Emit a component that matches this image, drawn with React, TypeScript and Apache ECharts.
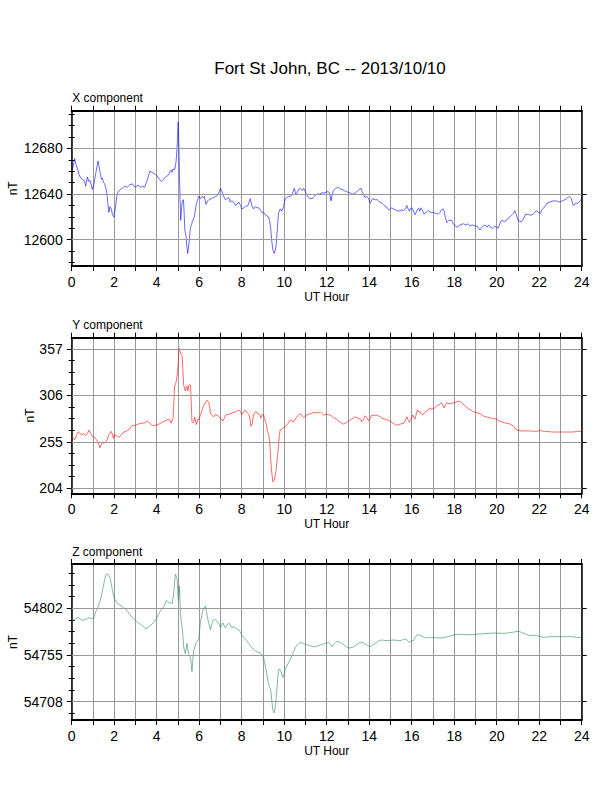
import React, { useEffect, useRef } from "react";
import * as echarts from "echarts";

// ---------------- DATA ----------------
const chartTitle = "Fort St John, BC -- 2013/10/10";
const panelNames = ["X component", "Y component", "Z component"];
const unitLabel = "nT";
const xAxisLabel = "UT Hour";

const xTickStep = 2;

// X component
const xCompHours = [
  0, 0.07, 0.14, 0.2, 0.27, 0.35, 0.42, 0.5, 0.58, 0.66, 0.74, 0.8, 0.86, 0.92, 0.97, 1.05, 1.13, 1.2, 1.24, 1.33,
  1.4, 1.44, 1.5, 1.55, 1.64, 1.7, 1.75, 1.8, 1.86, 1.92, 1.99, 2.07, 2.12, 2.18, 2.3, 2.38, 2.5, 2.61, 2.72, 2.85,
  2.93, 3.0, 3.12, 3.24, 3.35, 3.43, 3.55, 3.68, 3.78, 3.87, 3.95, 4.02, 4.12, 4.23, 4.32, 4.41, 4.5, 4.57, 4.63, 4.68,
  4.72, 4.77, 4.84, 4.91, 4.96, 5.01, 5.04, 5.07, 5.1, 5.13, 5.17, 5.2, 5.26, 5.3, 5.32, 5.38, 5.42, 5.46, 5.52, 5.59,
  5.64, 5.68, 5.77, 5.82, 5.87, 5.93, 5.98, 6.06, 6.13, 6.2, 6.24, 6.32, 6.4, 6.45, 6.55, 6.68, 6.78, 6.87, 6.95, 7.0,
  7.1, 7.18, 7.23, 7.3, 7.39, 7.46, 7.54, 7.62, 7.7, 7.78, 7.86, 7.95, 8.01, 8.1, 8.17, 8.3, 8.4, 8.48, 8.56, 8.65,
  8.72, 8.8, 8.88, 8.95, 9.03, 9.1, 9.18, 9.26, 9.32, 9.37, 9.42, 9.47, 9.53, 9.58, 9.62, 9.68, 9.73, 9.81, 9.89, 9.97,
  10.05, 10.12, 10.2, 10.28, 10.36, 10.42, 10.47, 10.55, 10.6, 10.68, 10.76, 10.85, 10.92, 11.0, 11.07, 11.2, 11.31, 11.42, 11.54, 11.65,
  11.78, 11.92, 12.0, 12.09, 12.15, 12.2, 12.26, 12.32, 12.42, 12.51, 12.6, 12.72, 12.82, 12.95, 13.1, 13.18, 13.26, 13.35, 13.42, 13.52,
  13.61, 13.67, 13.73, 13.8, 13.89, 13.97, 14.05, 14.1, 14.17, 14.28, 14.39, 14.5, 14.6, 14.7, 14.8, 14.88, 14.95, 15.05, 15.14, 15.25,
  15.38, 15.5, 15.61, 15.7, 15.77, 15.83, 15.89, 15.97, 16.05, 16.1, 16.16, 16.25, 16.32, 16.38, 16.43, 16.5, 16.58, 16.68, 16.79, 16.9,
  17.02, 17.12, 17.25, 17.33, 17.41, 17.47, 17.52, 17.58, 17.65, 17.75, 17.88, 17.95, 18.05, 18.15, 18.28, 18.43, 18.55, 18.65, 18.74, 18.85,
  18.98, 19.08, 19.15, 19.21, 19.3, 19.38, 19.45, 19.55, 19.62, 19.68, 19.8, 19.92, 20.0, 20.07, 20.15, 20.23, 20.35, 20.46, 20.55, 20.62,
  20.7, 20.78, 20.85, 20.92, 21.01, 21.1, 21.17, 21.25, 21.37, 21.5, 21.64, 21.75, 21.87, 21.95, 22.06, 22.12, 22.18, 22.27, 22.37, 22.5,
  22.65, 22.8, 22.97, 23.08, 23.2, 23.3, 23.4, 23.47, 23.51, 23.57, 23.62, 23.72, 23.83, 23.92, 24.0,
];
const xCompValues = [
  12660, 12664, 12671, 12666, 12662, 12657, 12654, 12653, 12652, 12647, 12655, 12651, 12652, 12648, 12644, 12649, 12658, 12665, 12669, 12660,
  12653, 12654, 12650, 12649, 12643, 12632, 12624, 12629, 12627, 12622, 12620, 12630, 12638, 12642, 12644, 12645, 12647, 12646, 12648, 12649,
  12647, 12646, 12648, 12646, 12647, 12646, 12652, 12660, 12659, 12658, 12657, 12656, 12653, 12651, 12653, 12655, 12656, 12657, 12660, 12661,
  12659, 12662, 12661, 12668, 12681, 12703, 12687, 12658, 12635, 12617, 12628, 12633, 12635, 12620, 12609, 12603, 12594, 12588, 12597, 12611,
  12613, 12616, 12620, 12626, 12632, 12635, 12638, 12636, 12638, 12637, 12638, 12631, 12634, 12635, 12636, 12637, 12638, 12639, 12642, 12645,
  12641, 12637, 12635, 12636, 12637, 12633, 12634, 12633, 12630, 12631, 12633, 12630, 12627, 12628, 12629, 12630, 12636, 12630, 12627, 12629,
  12628, 12628, 12626, 12624, 12624, 12622, 12621, 12620, 12616, 12609, 12598, 12591, 12588, 12591, 12595, 12610, 12623, 12627, 12625, 12629,
  12636, 12637, 12638, 12638, 12639, 12642, 12645, 12640, 12641, 12644, 12645, 12643, 12645, 12642, 12639, 12636, 12636, 12638, 12640, 12640,
  12641, 12641, 12642, 12642, 12640, 12634, 12640, 12643, 12645, 12646, 12645, 12644, 12643, 12642, 12641, 12640, 12640, 12641, 12642, 12644,
  12645, 12642, 12640, 12637, 12638, 12636, 12632, 12634, 12636, 12635, 12635, 12633, 12632, 12630, 12629, 12627, 12626, 12628, 12627, 12626,
  12625, 12626, 12625.5, 12627, 12630, 12627, 12625, 12628, 12627, 12624, 12622, 12626, 12627.5, 12625, 12628, 12626, 12622.5, 12624, 12625.5, 12624,
  12624, 12623, 12622.5, 12624, 12626.5, 12627, 12625.5, 12620, 12615, 12617, 12617, 12614, 12612, 12611, 12613, 12614, 12613, 12614, 12612, 12613,
  12612, 12612, 12610, 12608.5, 12611, 12612, 12613, 12611, 12613, 12611.5, 12610, 12612, 12611, 12610, 12614, 12617, 12616, 12617, 12619, 12620,
  12621.5, 12623, 12625.5, 12622, 12617, 12616, 12616, 12618, 12622.5, 12622, 12621.5, 12623, 12625.5, 12624, 12623, 12626, 12627.5, 12629, 12632, 12633,
  12634, 12634, 12633, 12634, 12635, 12636, 12638, 12637, 12636, 12632, 12630, 12632, 12632, 12634, 12636,
];

// Y component
const yCompHours = [
  0, 0.07, 0.14, 0.22, 0.3, 0.4, 0.5, 0.58, 0.66, 0.74, 0.81, 0.9, 0.97, 1.05, 1.13, 1.2, 1.24, 1.28, 1.33, 1.38,
  1.44, 1.5, 1.55, 1.64, 1.7, 1.75, 1.86, 1.92, 1.96, 2.02, 2.07, 2.15, 2.22, 2.35, 2.46, 2.58, 2.69, 2.78, 2.85, 2.95,
  3.08, 3.2, 3.32, 3.45, 3.55, 3.65, 3.79, 3.9, 4.02, 4.15, 4.26, 4.38, 4.49, 4.57, 4.63, 4.68, 4.73, 4.77, 4.81, 4.84,
  4.91, 4.99, 5.02, 5.05, 5.09, 5.12, 5.2, 5.24, 5.27, 5.31, 5.35, 5.39, 5.43, 5.47, 5.51, 5.55, 5.59, 5.63, 5.66, 5.7,
  5.74, 5.78, 5.82, 5.86, 5.9, 5.94, 5.98, 6.06, 6.14, 6.21, 6.29, 6.37, 6.45, 6.5, 6.53, 6.6, 6.68, 6.76, 6.84, 6.92,
  7.0, 7.06, 7.12, 7.2, 7.28, 7.38, 7.46, 7.58, 7.7, 7.78, 7.86, 7.94, 8.01, 8.08, 8.14, 8.24, 8.33, 8.39, 8.44, 8.49,
  8.53, 8.58, 8.64, 8.72, 8.8, 8.85, 8.9, 8.96, 9.03, 9.07, 9.11, 9.16, 9.22, 9.27, 9.31, 9.34, 9.37, 9.42, 9.47, 9.53,
  9.57, 9.62, 9.68, 9.73, 9.77, 9.81, 9.89, 9.97, 10.05, 10.13, 10.2, 10.28, 10.36, 10.44, 10.52, 10.6, 10.68, 10.76, 10.85, 10.92,
  11.0, 11.1, 11.25, 11.39, 11.5, 11.6, 11.7, 11.78, 11.86, 11.95, 12.09, 12.2, 12.32, 12.45, 12.56, 12.68, 12.8, 12.92, 13.03, 13.18,
  13.34, 13.46, 13.58, 13.66, 13.74, 13.81, 13.9, 13.97, 14.05, 14.12, 14.24, 14.36, 14.48, 14.6, 14.72, 14.86, 14.96, 15.06, 15.16, 15.27,
  15.36, 15.45, 15.55, 15.64, 15.7, 15.77, 15.83, 15.89, 15.97, 16.05, 16.1, 16.16, 16.22, 16.27, 16.33, 16.39, 16.45, 16.52, 16.6, 16.68,
  16.78, 16.86, 16.94, 17.02, 17.12, 17.21, 17.31, 17.41, 17.47, 17.52, 17.58, 17.65, 17.76, 17.88, 17.96, 18.04, 18.15, 18.27, 18.35, 18.43,
  18.55, 18.66, 18.78, 18.9, 19.05, 19.21, 19.33, 19.45, 19.6, 19.76, 19.88, 20.0, 20.12, 20.23, 20.35, 20.46, 20.58, 20.7, 20.8, 20.93,
  21.05, 21.17, 21.35, 21.56, 21.72, 21.87, 21.97, 22.06, 22.15, 22.26, 22.45, 22.65, 22.9, 23.12, 23.3, 23.51, 23.65, 23.75, 23.83, 24.0,
];
const yCompValues = [
  261, 259, 257.5, 262, 266, 264, 263, 264, 262, 264, 268, 264, 261, 260, 258.6, 256, 254, 252, 248.5, 252,
  255, 253, 254, 255.7, 260, 263, 266.5, 263, 259, 263, 262, 261, 260, 263, 266, 267, 268, 271, 273, 273,
  274, 275, 275.5, 276, 278, 276, 273, 273, 273.7, 275, 276.5, 278, 279, 280, 278, 275.5, 279, 281, 300, 316,
  320, 333, 345, 358, 355, 352.6, 349, 330, 316.8, 314, 311, 316, 316, 311, 316.8, 318, 317.5, 295, 277, 276,
  276.5, 282, 279, 274, 276.5, 280, 279, 284.4, 290, 295, 298, 300.6, 298, 292, 286, 284, 282.6, 285, 284.4, 283,
  281, 279, 278, 282, 285, 285, 286, 287, 288, 289, 290, 288, 285, 287, 290, 288, 285, 280, 272, 275,
  281, 286, 288, 287, 286, 284, 281, 285, 284.4, 281, 278, 274, 266.5, 262, 257.5, 247, 234, 220, 211, 212.6,
  217, 223.4, 238, 250, 262, 268, 269, 270.8, 272, 273.7, 276, 279, 278, 277, 280, 282.6, 285, 286, 283, 281.6,
  283, 285, 286, 287.3, 287, 287, 288, 286, 284.4, 285, 285, 284, 281.6, 280, 278, 276, 274.4, 276, 278, 280,
  282.6, 281, 280, 277, 280, 283.7, 281, 278, 281, 284.4, 284, 284.4, 283, 281, 280, 279, 278, 276.5, 275, 273,
  274, 274.4, 275, 275.5, 279, 282.6, 279, 276.5, 280, 284.4, 282, 280, 286, 290, 288, 288, 286, 284.4, 287, 288.7,
  290, 292.3, 291, 291.6, 293, 295.2, 296, 298, 295, 292.3, 295, 298, 297, 297, 298, 298, 299.5, 299.5, 298, 296,
  294, 291.6, 290, 288, 287, 286, 284, 282.6, 282, 281, 280.5, 280, 278, 277, 276, 275.5, 275, 273.7, 272, 268,
  267.5, 267, 267, 267, 266.7, 266.5, 267, 268, 266.8, 266.5, 266.2, 265.8, 265.8, 265.8, 265.8, 265.8, 265.9, 266.5, 266.5, 266.5,
];

// Z component
const zCompHours = [
  0, 0.1, 0.19, 0.34, 0.42, 0.5, 0.58, 0.66, 0.74, 0.81, 0.9, 1.02, 1.08, 1.13, 1.24, 1.36, 1.42, 1.49, 1.55, 1.6,
  1.65, 1.71, 1.76, 1.8, 1.86, 1.91, 1.97, 2.02, 2.14, 2.26, 2.38, 2.5, 2.61, 2.73, 2.85, 2.97, 3.08, 3.2, 3.32, 3.4,
  3.47, 3.55, 3.63, 3.71, 3.82, 3.94, 4.05, 4.15, 4.25, 4.33, 4.4, 4.46, 4.52, 4.57, 4.65, 4.73, 4.77, 4.8, 4.84, 4.88,
  4.92, 4.96, 4.99, 5.02, 5.05, 5.07, 5.1, 5.12, 5.16, 5.2, 5.24, 5.27, 5.31, 5.35, 5.39, 5.43, 5.47, 5.51, 5.55, 5.59,
  5.63, 5.66, 5.7, 5.74, 5.8, 5.87, 5.92, 5.98, 6.02, 6.06, 6.12, 6.18, 6.24, 6.29, 6.34, 6.4, 6.46, 6.53, 6.59, 6.65,
  6.71, 6.76, 6.84, 6.92, 7.0, 7.06, 7.12, 7.18, 7.23, 7.31, 7.39, 7.46, 7.54, 7.62, 7.7, 7.78, 7.86, 7.94, 8.01, 8.09,
  8.17, 8.25, 8.33, 8.39, 8.44, 8.54, 8.64, 8.75, 8.87, 8.95, 9.03, 9.09, 9.15, 9.2, 9.26, 9.32, 9.37, 9.42, 9.47, 9.53,
  9.58, 9.62, 9.68, 9.73, 9.78, 9.84, 9.89, 9.94, 10.0, 10.05, 10.12, 10.2, 10.28, 10.36, 10.44, 10.52, 10.63, 10.75, 10.9, 11.07,
  11.22, 11.39, 11.55, 11.7, 11.9, 12.09, 12.18, 12.25, 12.35, 12.48, 12.6, 12.72, 12.88, 13.03, 13.15, 13.26, 13.42, 13.58, 13.7, 13.81,
  13.93, 14.05, 14.16, 14.28, 14.4, 14.52, 14.68, 14.83, 15.0, 15.14, 15.3, 15.45, 15.6, 15.74, 15.82, 15.89, 16.0, 16.08, 16.18, 16.27,
  16.35, 16.43, 16.53, 16.63, 16.8, 16.94, 17.1, 17.25, 17.37, 17.49, 17.6, 17.72, 17.88, 18.04, 18.2, 18.43, 18.65, 18.9, 19.1, 19.29,
  19.5, 19.76, 19.9, 20.07, 20.25, 20.46, 20.62, 20.78, 20.9, 21.01, 21.12, 21.25, 21.4, 21.56, 21.72, 21.87, 22.0, 22.18, 22.4, 22.65,
  22.9, 23.12, 23.3, 23.51, 23.65, 23.75, 23.88, 24.0,
];
const zCompValues = [
  54789.3, 54790.5, 54791.7, 54792.7, 54791, 54790, 54790.5, 54790.7, 54792, 54792.7, 54792, 54791.7, 54795, 54798.6, 54803.7, 54811.3, 54817, 54824.3, 54831, 54835.3,
  54836.5, 54836.3, 54835, 54832.9, 54827, 54820.9, 54815, 54811.3, 54807, 54805.5, 54803.7, 54801.5, 54799.6, 54796, 54792.7, 54790.5, 54788.3, 54786.5, 54784.8, 54783,
  54781.4, 54782, 54783.5, 54784.8, 54787, 54790, 54794.5, 54798.6, 54801.5, 54803.7, 54807, 54809.9, 54808.5, 54807.8, 54807.5, 54807, 54812, 54817.4, 54828, 54836.3,
  54834.5, 54831.8, 54820, 54809.9, 54818, 54824.3, 54808, 54796.8, 54788, 54782.4, 54772, 54763.2, 54759, 54756.4, 54762, 54766.7, 54760, 54755.7, 54754, 54752.9,
  54745, 54738.5, 54750, 54759.1, 54764, 54767.7, 54769, 54771.1, 54780, 54788.3, 54795, 54800.3, 54803, 54804.4, 54798, 54791.7, 54786, 54780.4, 54786, 54790,
  54790.5, 54790.7, 54789, 54786.6, 54782.4, 54785, 54787.2, 54784, 54782.4, 54785, 54787.2, 54785, 54782.4, 54783.5, 54782.4, 54781, 54780.4, 54778, 54774.6, 54773,
  54771.1, 54769, 54766.7, 54765, 54763.2, 54761, 54759.1, 54758, 54757.4, 54755, 54752.3, 54746, 54740.3, 54733, 54726.5, 54722, 54719.7, 54708, 54699.1, 54696.7,
  54703, 54711.1, 54727, 54740.3, 54741, 54738.5, 54735, 54732.4, 54736, 54740.3, 54744, 54747.1, 54750.5, 54754, 54758, 54762.5, 54765.5, 54767.7, 54766.5, 54765.3,
  54764.5, 54763.2, 54764, 54765.3, 54766.5, 54767.7, 54766, 54763.2, 54766, 54768.7, 54768, 54766.7, 54764, 54761.9, 54762.5, 54763.2, 54765.5, 54767.7, 54767.5, 54766,
  54764.5, 54763.2, 54765, 54766.7, 54768.5, 54770.1, 54769.8, 54769.4, 54769.8, 54770.1, 54769.7, 54769.4, 54770.5, 54771.1, 54769, 54767.7, 54769.5, 54769.4, 54773, 54775.6,
  54775, 54774.6, 54773.5, 54772.2, 54772.6, 54772.8, 54772.5, 54772.2, 54772.2, 54772.2, 54773, 54773.5, 54774.5, 54775.6, 54775.8, 54775.6, 54775.4, 54775.6, 54776, 54776.3,
  54776.6, 54777, 54777.2, 54777, 54776.8, 54777, 54777.5, 54778, 54778.5, 54779, 54778.2, 54777, 54775.8, 54774.6, 54774.8, 54774.6, 54773.8, 54772.8, 54773.2, 54773.5,
  54773.5, 54773.5, 54773.4, 54773.5, 54773.2, 54772.8, 54772.6, 54772.8,
];

// axis ranges and tick labels
const xRange = [0, 24];
const yRangeX = [12577, 12713];
const yRangeY = [198.5, 369.4];
const yRangeZ = [54689.6, 54846.6];
const yTicksX = [12600, 12640, 12680];
const yTicksY = [204, 255, 306, 357];
const yTicksZ = [54708, 54755, 54802];

// ---------------- CHART ----------------
const FONT = "'Liberation Sans', Arial, Helvetica, sans-serif";

function minorTicks(majors: number[], range: number[], parts: number): number[] {
  const step = (majors[1] - majors[0]) / parts;
  const out: number[] = [];
  let v = majors[0];
  while (v - step >= range[0]) v -= step;
  for (; v <= range[1] + 1e-9; v += step) out.push(Math.round(v * 1000) / 1000);
  return out;
}

export default function App() {
  const ref = useRef<HTMLDivElement>(null);

  useEffect(() => {
    if (!ref.current) return;
    const chart = echarts.init(ref.current, undefined, { renderer: "svg" });

    const panels = [
      { name: panelNames[0], hours: xCompHours, values: xCompValues, range: yRangeX, ticks: yTicksX, color: "#0000ff", unitX: 13 },
      { name: panelNames[1], hours: yCompHours, values: yCompValues, range: yRangeY, ticks: yTicksY, color: "#ff0000", unitX: 30 },
      { name: panelNames[2], hours: zCompHours, values: zCompValues, range: yRangeZ, ticks: yTicksZ, color: "#2e8b57", unitX: 13 },
    ];

    const gridLeft = 71.7;
    const gridWidth = 510;
    const tops = [110.7, 337.7, 564];
    const heights = [155.3, 155.6, 156];

    const grids: any[] = [];
    const xAxes: any[] = [];
    const yAxes: any[] = [];
    const series: any[] = [];
    const graphics: any[] = [];

    graphics.push({
      type: "text",
      x: 330,
      y: 68,
      style: { text: chartTitle, font: `17px ${FONT}`, fill: "#000", textAlign: "center", textVerticalAlign: "middle" },
    });

    const plain = (v: number) => String(v);

    panels.forEach((p, i) => {
      const top = tops[i];
      const h = heights[i];
      grids.push({ left: gridLeft, top, width: gridWidth, height: h, containLabel: false });

      const tickCommon = { show: true, inside: false, length: 5, lineStyle: { color: "#000", width: 1 } };
      xAxes.push({
        type: "value",
        gridIndex: i,
        position: "bottom",
        min: xRange[0],
        max: xRange[1],
        interval: xTickStep,
        axisLine: { show: true, onZero: false, lineStyle: { color: "#000", width: 2 } },
        axisTick: tickCommon,
        minorTick: { show: true, splitNumber: 2, length: 5, lineStyle: { color: "#000", width: 1 } },
        axisLabel: { show: true, fontSize: 14, color: "#000", margin: 9, fontFamily: FONT, formatter: plain },
        splitLine: { show: true, lineStyle: { color: "#999", width: 1 } },
        minorSplitLine: { show: true, lineStyle: { color: "#999", width: 1 } },
      });
      xAxes.push({
        type: "value",
        gridIndex: i,
        position: "top",
        min: xRange[0],
        max: xRange[1],
        interval: xTickStep,
        axisLine: { show: true, onZero: false, lineStyle: { color: "#000", width: 2 } },
        axisTick: tickCommon,
        minorTick: { show: true, splitNumber: 2, length: 5, lineStyle: { color: "#000", width: 1 } },
        axisLabel: { show: false },
        splitLine: { show: false },
        minorSplitLine: { show: false },
      });

      const minors = minorTicks(p.ticks, p.range, 4);
      const baseY = {
        type: "value",
        gridIndex: i,
        min: p.range[0],
        max: p.range[1],
        scale: true,
        splitLine: { show: false },
        minorTick: { show: false },
      };
      yAxes.push({
        ...baseY,
        position: "left",
        axisLine: { show: true, onZero: false, lineStyle: { color: "#000", width: 1.5 } },
        axisTick: { show: true, length: 5, customValues: p.ticks, lineStyle: { color: "#000", width: 1 } },
        axisLabel: { show: true, customValues: p.ticks, fontSize: 14, color: "#000", margin: 9, fontFamily: FONT, formatter: plain },
      });
      yAxes.push({
        ...baseY,
        position: "left",
        axisLine: { show: false },
        axisTick: { show: true, length: 3, customValues: minors, lineStyle: { color: "#000", width: 1 } },
        axisLabel: { show: false },
      });
      yAxes.push({
        ...baseY,
        position: "right",
        axisLine: { show: true, onZero: false, lineStyle: { color: "#000", width: 1.5 } },
        axisTick: { show: true, length: 5, customValues: p.ticks, lineStyle: { color: "#000", width: 1 } },
        axisLabel: { show: false },
      });
      yAxes.push({
        ...baseY,
        position: "right",
        axisLine: { show: false },
        axisTick: { show: true, length: 3, customValues: minors, lineStyle: { color: "#000", width: 1 } },
        axisLabel: { show: false },
      });

      series.push({
        type: "line",
        name: p.name,
        xAxisIndex: 2 * i,
        yAxisIndex: 4 * i,
        data: p.hours.map((t, k) => [t, p.values[k]]),
        showSymbol: false,
        symbol: "none",
        silent: true,
        clip: true,
        lineStyle: { color: p.color, width: 0.6 },
        markLine: {
          silent: true,
          symbol: ["none", "none"],
          label: { show: false },
          emphasis: { disabled: true },
          lineStyle: { color: "#999", width: 1, type: "solid" },
          data: p.ticks.map((v) => ({ yAxis: v })),
        },
      });

      graphics.push({
        type: "text",
        x: gridLeft + 0.5,
        y: top - 12.5,
        style: { text: p.name, font: `12px ${FONT}`, fill: "#000", textAlign: "left", textVerticalAlign: "middle" },
      });
      graphics.push({
        type: "text",
        x: p.unitX,
        y: top + h / 2,
        rotation: Math.PI / 2,
        style: { text: unitLabel, font: `12px ${FONT}`, fill: "#000", textAlign: "center", textVerticalAlign: "middle" },
      });
      graphics.push({
        type: "text",
        x: gridLeft + gridWidth / 2,
        y: top + h + 30.5,
        style: { text: xAxisLabel, font: `12px ${FONT}`, fill: "#000", textAlign: "center", textVerticalAlign: "middle" },
      });
    });

    chart.setOption({
      animation: false,
      backgroundColor: "#fff",
      textStyle: { fontFamily: FONT },
      grid: grids,
      xAxis: xAxes,
      yAxis: yAxes,
      series,
      graphic: graphics,
    });

    return () => chart.dispose();
  }, []);

  return (
    <div
      ref={ref}
      style={{ position: "absolute", left: 0, top: 0, width: 612, height: 792, background: "#fff" }}
    />
  );
}
